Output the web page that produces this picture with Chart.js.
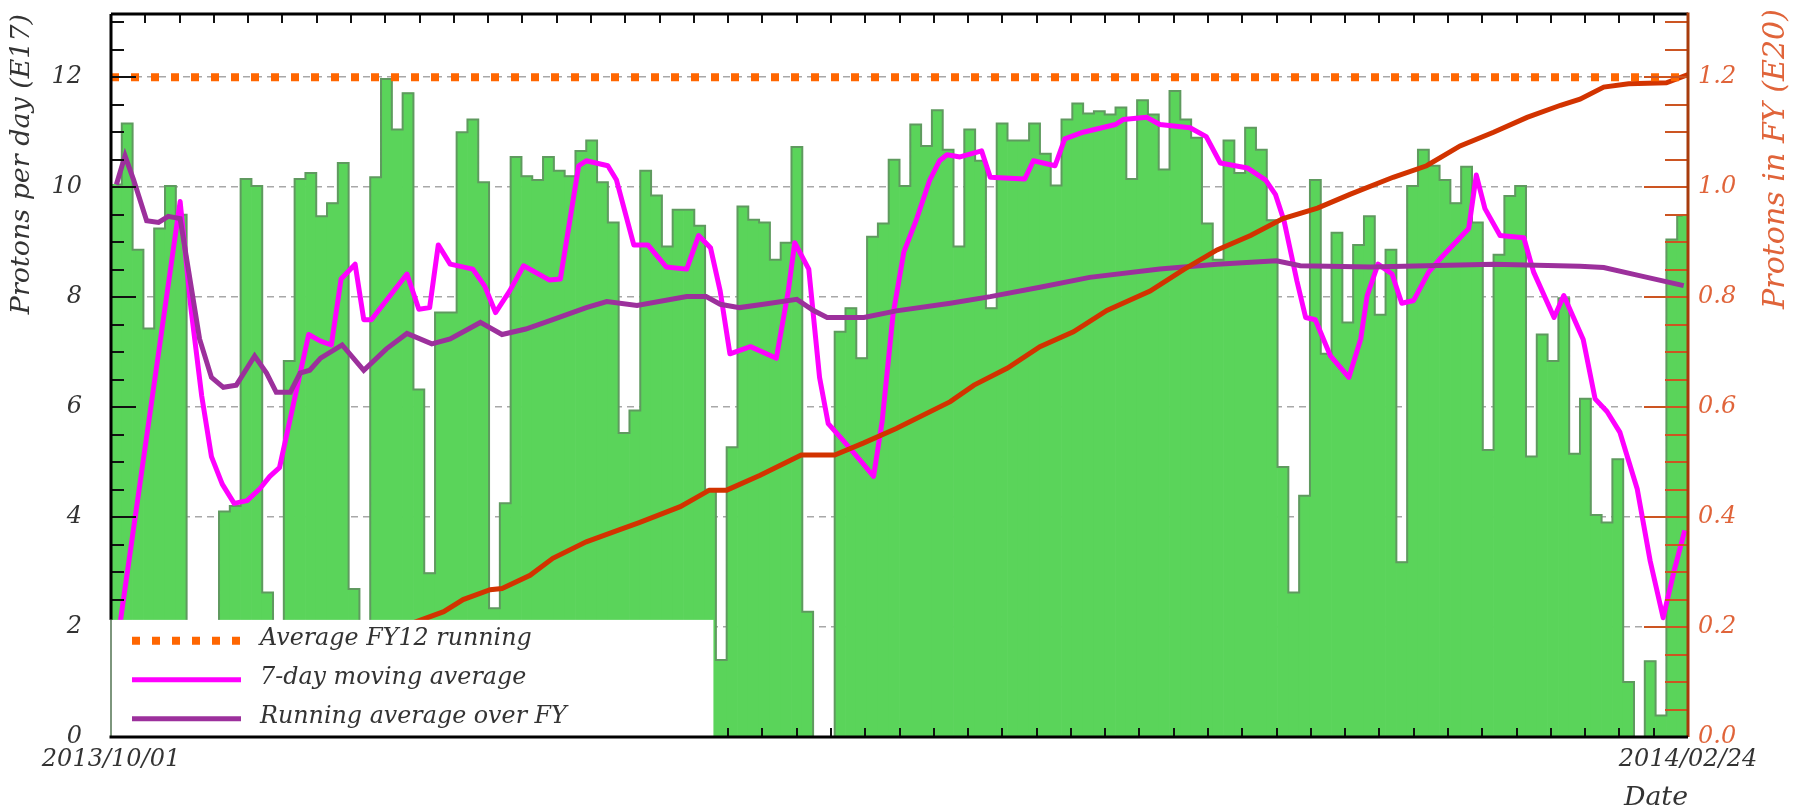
<!DOCTYPE html>
<html>
<head>
<meta charset="utf-8">
<script src="https://cdn.jsdelivr.net/npm/chart.js@4/dist/chart.umd.min.js"></script>
<style>
  html, body { margin: 0; padding: 0; background: #fff; }
</style>
</head>
<body>
<canvas id="chart" width="1798" height="809"></canvas>
<script>
// ---- data ----
const startLabel = "2013/10/01";
const endLabel = "2014/02/24";
const nDays = 146;          // one bin per day
const yMax = 13.15;         // top of the frame, E17 per day
const fy12Average = 12;     // E17 per day

// protons per day (E17), one value per day from 2013/10/01
const protonsPerDay = [
  10.05, 11.16, 8.86, 7.43, 9.25, 10.02, 9.5, 0, 0, 0,
  4.1, 4.2, 10.15, 10.02, 2.63, 0, 6.84, 10.15, 10.26, 9.47,
  9.71, 10.44, 2.69, 0, 10.18, 11.97, 11.05, 11.71, 6.32, 2.98,
  7.72, 7.72, 11.0, 11.23, 10.09, 2.34, 4.25, 10.55, 10.2, 10.13,
  10.55, 10.3, 10.2, 10.66, 10.85, 10.09, 9.36, 5.53, 5.94, 10.3,
  9.85, 8.92, 9.59, 9.59, 9.3, 4.5, 1.4, 5.27, 9.65, 9.41,
  9.36, 8.68, 8.99, 10.73, 2.28, 0, 0, 7.37, 7.8, 6.89,
  9.1, 9.34, 10.5, 10.02, 11.14, 10.75, 11.4, 10.68, 8.92, 11.05,
  10.48, 7.8, 11.16, 10.85, 10.85, 11.16, 10.61, 10.03, 11.23, 11.52,
  11.34, 11.38, 11.32, 11.45, 10.15, 11.58, 11.32, 10.32, 11.75, 11.23,
  10.9, 9.34, 8.68, 10.85, 10.26, 11.08, 10.68, 9.4, 4.91, 2.63,
  4.39, 10.13, 6.97, 9.17, 7.54, 8.95, 9.47, 7.68, 8.86, 3.18,
  10.02, 10.68, 10.39, 10.13, 9.71, 10.37, 9.36, 5.22, 8.77, 9.84,
  10.02, 5.1, 7.32, 6.84, 7.98, 5.15, 6.15, 4.04, 3.9, 5.05,
  1.0, 0, 1.38, 0.39, 9.05, 9.48
];

// 7-day moving average (E17): day position and value of each vertex
const ma7Day = [0.5, 6.4, 7.4, 8.4, 9.3, 10.3, 11.4, 12.6, 13.8, 14.7, 15.6, 18.3, 19.4, 20.4, 21.3, 22.6, 23.4, 24.1,
  27.4, 28.5, 29.5, 30.3, 31.4, 33.5, 34.6, 35.6, 36.9, 38.2, 40.6, 41.6, 43.3, 44.0, 46.0, 46.8, 48.4, 49.7,
  51.4, 53.3, 54.4, 55.5, 56.4, 57.3, 59.2, 61.6, 62.7, 63.3, 64.6, 65.6, 66.4, 67.8, 69.5, 70.6, 71.4, 72.4,
  73.4, 74.6, 75.8, 76.7, 77.4, 78.6, 80.6, 81.4, 84.6, 85.4, 87.4, 88.3, 90.0, 93.0, 93.7, 95.9, 97.1, 99.9,
  101.4, 102.7, 105.2, 106.9, 107.8, 108.6, 109.8, 110.6, 111.5, 112.9, 114.6, 115.7, 116.3, 117.3, 118.6,
  119.5, 120.6, 122.0, 123.2, 125.7, 126.4, 127.2, 128.6, 130.8, 131.7, 133.6, 134.5, 136.3, 137.4, 138.5,
  139.7, 141.3, 142.5, 143.7, 144.7, 145.7];
const ma7Value = [1.6, 9.74, 7.8, 6.2, 5.1, 4.6, 4.25, 4.3, 4.52, 4.74, 4.9, 7.32, 7.2, 7.13, 8.33, 8.6, 7.59, 7.59,
  8.42, 7.78, 7.81, 8.95, 8.6, 8.51, 8.2, 7.72, 8.11, 8.57, 8.31, 8.33, 10.39, 10.48, 10.39, 10.13, 8.95, 8.95,
  8.55, 8.51, 9.12, 8.9, 8.11, 6.97, 7.1, 6.89, 8.11, 8.99, 8.51, 6.54, 5.7, 5.39, 5.0, 4.74, 5.75, 7.68,
  8.82, 9.43, 10.13, 10.48, 10.59, 10.55, 10.66, 10.18, 10.15, 10.48, 10.39, 10.88, 11.0, 11.14, 11.23, 11.27, 11.14, 11.08,
  10.92, 10.44, 10.35, 10.13, 9.87, 9.39, 8.29, 7.63, 7.59, 6.93, 6.54, 7.24, 8.03, 8.6, 8.42,
  7.89, 7.94, 8.46, 8.73, 9.25, 10.22, 9.61, 9.12, 9.08, 8.46, 7.63, 8.03, 7.23, 6.15, 5.92,
  5.54, 4.51, 3.2, 2.17, 3.01, 3.76];

// running average over FY (E17)
const runAvgDay = [0.5, 1.3, 2.1, 3.3, 4.4, 5.3, 6.4, 7.2, 8.2, 9.3, 10.4, 11.6, 13.3, 14.4, 15.3, 16.6, 17.5, 18.4,
  19.4, 21.4, 23.4, 25.5, 27.4, 29.7, 31.4, 34.2, 36.2, 38.4, 40.9, 44.0, 45.9, 48.7, 53.3, 55.1, 56.4, 58.2,
  60.4, 63.5, 65.0, 66.3, 69.7, 72.7, 77.7, 81.4, 86.0, 90.6, 97.1, 102.4, 107.9, 110.1, 116.6, 128.0, 136.0,
  138.2, 141.3, 145.6];
const runAvgValue = [10.05, 10.57, 10.13, 9.39, 9.36, 9.47, 9.43, 8.46, 7.24, 6.54, 6.36, 6.4, 6.93, 6.62, 6.27, 6.27, 6.62, 6.67,
  6.89, 7.13, 6.67, 7.06, 7.34, 7.15, 7.24, 7.54, 7.32, 7.42, 7.59, 7.81, 7.92, 7.85, 8.01, 8.01, 7.87, 7.81,
  7.87, 7.96, 7.76, 7.63, 7.63, 7.75, 7.89, 8.01, 8.18, 8.36, 8.51, 8.6, 8.66, 8.57, 8.55, 8.6, 8.56,
  8.54, 8.4, 8.21];

// protons in FY, cumulative (E20)
const cumDay = [0.5, 30.8, 32.6, 35.1, 36.2, 38.8, 40.9, 44.0, 47.1, 48.9, 52.7, 55.4, 57.0, 60.1, 63.9, 67.0,
  69.7, 72.7, 77.7, 79.9, 83.0, 86.0, 89.1, 92.2, 96.2, 99.3, 102.4, 105.5, 108.5, 111.7, 114.7, 118.7,
  121.8, 124.9, 128.0, 131.1, 134.2, 136.0, 138.2, 140.5, 144.0, 146.0];
const cumValue = [0.01, 0.228, 0.25, 0.268, 0.27, 0.294, 0.325, 0.355, 0.377, 0.39, 0.419, 0.449, 0.449, 0.476, 0.513, 0.513,
  0.535, 0.561, 0.61, 0.64, 0.671, 0.71, 0.737, 0.776, 0.811, 0.85, 0.886, 0.912, 0.943, 0.962, 0.987, 1.018,
  1.039, 1.075, 1.10, 1.127, 1.149, 1.16, 1.182, 1.188, 1.19, 1.205];

const legendLabels = ["Average FY12 running", "7-day moving average", "Running average over FY"];

// ---- style ----
const serif = "'DejaVu Serif', serif";
const green = "#5ad45a";
const magenta = "#ff00ff";
const purple = "#9c309c";
const red = "#d23300";
const orange = "#ff6600";
const rightColor = "#e0643a";
const xDivisions = 46;

// font size so that text spans a given width
function fitSize(text, width) {
  let c = document.createElement("canvas").getContext("2d");
  c.font = "italic 100px " + serif;
  return Math.round(1000 * width / c.measureText(text).width) / 10;
}

function points(xs, ys) {
  return xs.map(function (d, i) { return { x: d, y: ys[i] }; });
}

// no extra room for the end labels, the frame is placed by hand
function noPad(s) {
  s.paddingTop = 0; s.paddingBottom = 0; s.paddingLeft = 0; s.paddingRight = 0;
}

let bars = protonsPerDay.map(function (v, i) { return { x: i + 0.5, y: v }; });

// ROOT-like frame, inner ticks, legend and right title
const rootFrame = {
  id: "rootFrame",
  afterDatasetsDraw(chart) {
    const ctx = chart.ctx;
    const a = chart.chartArea;
    const xs = chart.scales.x, ys = chart.scales.y, ys2 = chart.scales.y2;
    ctx.save();

    // x ticks, top and bottom
    ctx.strokeStyle = "#111";
    ctx.lineWidth = 2;
    ctx.beginPath();
    for (let k = 1; k < xDivisions; k++) {
      let px = Math.round(xs.getPixelForValue(k * nDays / xDivisions));
      ctx.moveTo(px, a.bottom); ctx.lineTo(px, a.bottom - 9);
      ctx.moveTo(px, a.top); ctx.lineTo(px, a.top + 9);
    }
    ctx.stroke();

    // left ticks
    ctx.beginPath();
    for (let k = 1; k * 0.5 < ys.max; k++) {
      let py = Math.round(ys.getPixelForValue(k * 0.5));
      let len = k % 4 === 0 ? 25 : 13;
      ctx.moveTo(a.left, py); ctx.lineTo(a.left + len, py);
    }
    ctx.stroke();

    // right ticks
    ctx.strokeStyle = "#cc5522";
    ctx.beginPath();
    for (let k = 1; k * 0.05 < ys2.max; k++) {
      let py = Math.round(ys2.getPixelForValue(k * 0.05));
      let len = k % 4 === 0 ? 44 : 23;
      ctx.moveTo(a.right, py); ctx.lineTo(a.right - len, py);
    }
    ctx.stroke();

    // frame
    ctx.lineWidth = 3;
    ctx.strokeStyle = "#000";
    ctx.beginPath();
    ctx.moveTo(a.left, a.top); ctx.lineTo(a.right, a.top);
    ctx.moveTo(a.left, a.top); ctx.lineTo(a.left, a.bottom);
    ctx.stroke();
    ctx.strokeStyle = "#a83c0c";
    ctx.beginPath();
    ctx.moveTo(a.right, a.top - 1.5); ctx.lineTo(a.right, a.bottom);
    ctx.stroke();

    // legend box
    const lw = (a.right - a.left) * 0.382;
    const lh = (a.bottom - a.top) * 0.162;
    const lx = a.left, ly = a.bottom - lh;
    ctx.fillStyle = "#fff";
    ctx.fillRect(lx - 2, ly, lw + 2, lh);
    ctx.strokeStyle = "#7d967d";
    ctx.lineWidth = 2;
    ctx.beginPath();
    ctx.moveTo(lx, ly); ctx.lineTo(lx, a.bottom);
    ctx.stroke();

    const rows = [ly + 21, ly + 60, ly + 99];
    const sx0 = lx + 21, sx1 = lx + 130;
    ctx.lineCap = "butt";
    ctx.setLineDash([8, 12]);
    ctx.lineWidth = 8;
    ctx.strokeStyle = orange;
    ctx.beginPath(); ctx.moveTo(sx0, rows[0]); ctx.lineTo(sx1, rows[0]); ctx.stroke();
    ctx.setLineDash([]);
    ctx.lineWidth = 5;
    ctx.strokeStyle = magenta;
    ctx.beginPath(); ctx.moveTo(sx0, rows[1]); ctx.lineTo(sx1, rows[1]); ctx.stroke();
    ctx.strokeStyle = purple;
    ctx.beginPath(); ctx.moveTo(sx0, rows[2]); ctx.lineTo(sx1, rows[2]); ctx.stroke();

    ctx.fillStyle = "#333";
    ctx.textBaseline = "middle";
    ctx.textAlign = "left";
    ctx.font = "italic " + fitSize(legendLabels[0], 272) + "px " + serif;
    legendLabels.forEach(function (t, i) { ctx.fillText(t, lx + 149, rows[i] - 2); });

    // bottom axis
    ctx.lineWidth = 3;
    ctx.strokeStyle = "#000";
    ctx.beginPath();
    ctx.moveTo(a.left - 1.5, a.bottom); ctx.lineTo(a.right, a.bottom);
    ctx.stroke();

    // right axis title
    ctx.fillStyle = rightColor;
    ctx.font = "italic " + fitSize("Protons in FY (E20)", 300) + "px " + serif;
    ctx.translate(a.right + 88, a.top - 5);
    ctx.rotate(-Math.PI / 2);
    ctx.textAlign = "right";
    ctx.fillText("Protons in FY (E20)", 0, 0);
    ctx.restore();
  }
};

Chart.defaults.font.family = serif;
Chart.defaults.font.style = "italic";

let chart = new Chart(document.getElementById("chart"), {
  type: "bar",
  data: {
    datasets: [
      {
        type: "line",
        label: legendLabels[0],
        data: [{ x: 0, y: fy12Average }, { x: nDays, y: fy12Average }],
        borderColor: orange,
        borderWidth: 8,
        borderDash: [8, 12],
        borderCapStyle: "butt",
        pointRadius: 0,
        order: 1
      },
      {
        type: "line",
        label: "Protons in FY",
        yAxisID: "y2",
        data: points(cumDay, cumValue),
        borderColor: red,
        borderWidth: 5,
        pointRadius: 0,
        tension: 0,
        order: 2
      },
      {
        type: "line",
        label: legendLabels[2],
        data: points(runAvgDay, runAvgValue),
        borderColor: purple,
        borderWidth: 5,
        pointRadius: 0,
        tension: 0,
        order: 3
      },
      {
        type: "line",
        label: legendLabels[1],
        data: points(ma7Day, ma7Value),
        borderColor: magenta,
        borderWidth: 5,
        borderJoinStyle: "round",
        pointRadius: 0,
        tension: 0,
        order: 4
      },
      {
        type: "line",
        label: "outline",
        data: bars,
        stepped: "middle",
        borderColor: "#5f9a5f",
        borderWidth: 2,
        pointRadius: 0,
        fill: false,
        order: 5
      },
      {
        type: "bar",
        label: "Protons per day",
        data: bars,
        backgroundColor: green,
        borderWidth: 0,
        barPercentage: 1,
        categoryPercentage: 1,
        grouped: false,
        order: 6
      }
    ]
  },
  options: {
    responsive: false,
    animation: false,
    layout: { padding: { top: 14, left: 0, right: 0, bottom: 0 } },
    plugins: { legend: { display: false }, tooltip: { enabled: false } },
    scales: {
      x: {
        type: "linear",
        min: 0,
        max: nDays,
        offset: false,
        grid: { display: false, drawTicks: false, offset: false },
        border: { display: false },
        afterBuildTicks: function (s) { s.ticks = [{ value: 0 }, { value: nDays }]; },
        ticks: {
          autoSkip: false,
          maxRotation: 0,
          padding: 8,
          color: "#333",
          font: { size: 24 },
          callback: function (v) { return v === 0 ? startLabel : endLabel; }
        },
        title: {
          display: true,
          text: "Date",
          align: "end",
          color: "#333",
          font: { size: fitSize("Date", 64), lineHeight: 1 },
          padding: { top: 0, bottom: -2 }
        },
        afterFit: function (s) { s.height = 72; noPad(s); }
      },
      y: {
        position: "left",
        min: 0,
        max: yMax,
        grid: { color: "#a8a8a8", lineWidth: 1.5, drawTicks: false },
        border: { display: false, dash: [7, 5] },
        ticks: { stepSize: 2, includeBounds: false, padding: 29, color: "#333", font: { size: 24 } },
        title: {
          display: true,
          text: "Protons per day (E17)",
          align: "end",
          color: "#333",
          font: { size: fitSize("Protons per day (E17)", 300) },
          padding: { top: 6, bottom: 0 }
        },
        afterFit: function (s) { s.width = 111; noPad(s); }
      },
      y2: {
        position: "right",
        min: 0,
        max: yMax / 10,
        grid: { display: false, drawTicks: false },
        border: { display: false },
        ticks: {
          stepSize: 0.2,
          includeBounds: false,
          padding: 10,
          color: rightColor,
          font: { size: 24 },
          callback: function (v) { return v.toFixed(1); }
        },
        afterFit: function (s) { s.width = 110; noPad(s); }
      }
    }
  },
  plugins: [rootFrame]
});
</script>
</body>
</html>
